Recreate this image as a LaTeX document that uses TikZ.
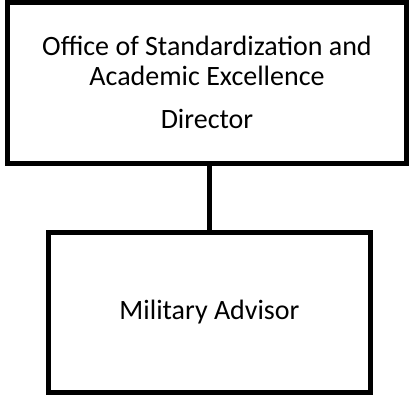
\documentclass[tikz,border=0pt]{standalone}
\usepackage{fontspec}
\setmainfont{Carlito}
\usetikzlibrary{positioning}

\begin{document}
\begin{tikzpicture}[
    x=0.75pt, y=-0.75pt,
    orgbox/.style={draw, line width=3.75pt, inner sep=0pt, align=center,
                   font=\fontsize{21}{22.5}\selectfont}
  ]
    \useasboundingbox (0,0) rectangle (410,396);

    \node[orgbox, minimum width=299.6pt, minimum height=120.4pt] (director) at (207, 82.75)
      {Office of Standardization and\\
       Academic Excellence\\[9.75pt]
       Director};

    \node[orgbox, minimum width=241.5pt, minimum height=120pt] (advisor) at (209.5, 312)
      {Military Advisor};

    \draw[line width=3.75pt] (advisor.north |- director.south) -- (advisor.north);
  \end{tikzpicture}
\end{document}
